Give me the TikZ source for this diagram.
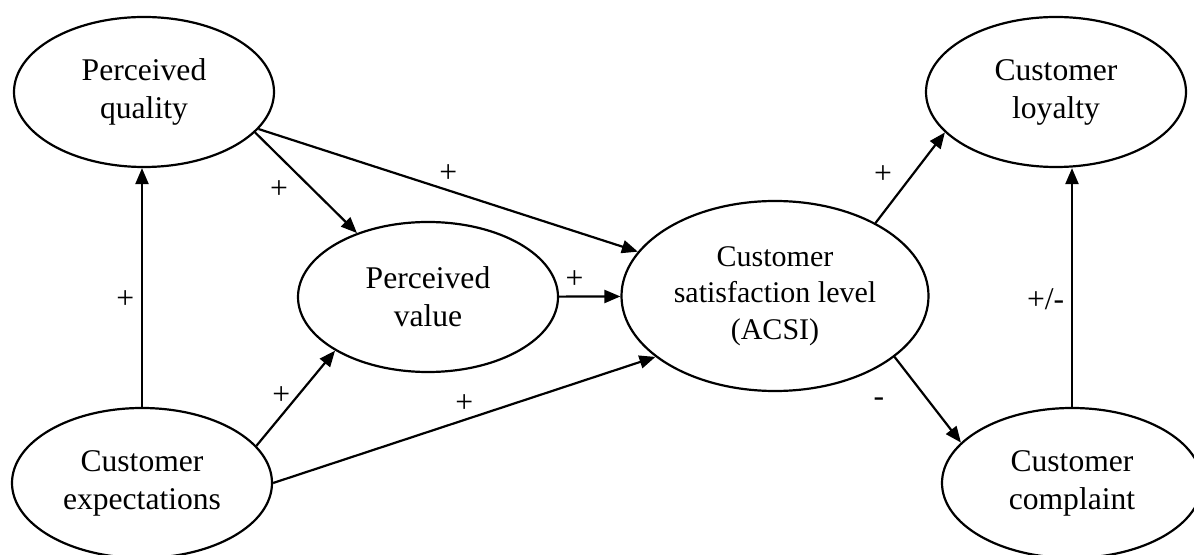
\documentclass[tikz,border=0pt]{standalone}
\usepackage{fontspec}
\setmainfont{Liberation Serif}
\usetikzlibrary{shapes.geometric, arrows.meta}
\tikzset{
    > = {Triangle[length=8pt, width=6.5pt]},
    factor/.style = {ellipse, draw, line width=1.1pt, minimum width=130pt,
        minimum height=75pt, inner sep=2pt, align=center,
        font=\fontsize{15.8}{19}\selectfont},
    link/.style = {->, line width=1.1pt},
    sign/.style = {font=\fontsize{15.8}{19}\selectfont}
}

\begin{document}
\begin{tikzpicture}[x=0.5pt, y=-0.5pt]
    \useasboundingbox (0,0) rectangle (1194,555);

    \node[factor] (quality) at (144, 92) {Perceived\\quality};
    \node[factor] (expect) at (142, 483) {Customer\\expectations};
    \node[factor] (value) at (428, 297) {Perceived\\value};
    \node[factor, minimum width=153.5pt, minimum height=95pt,
        font=\fontsize{15}{18.25}\selectfont] (acsi) at (775, 296)
        {Customer\\satisfaction level\\(ACSI)};
    \node[factor] (loyalty) at (1056, 92) {Customer\\loyalty};
    \node[factor] (complaint) at (1072, 483) {Customer\\complaint};

    \draw (expect.north) edge[link] node[sign, left, pos=0.45] (s1) {+} (expect.north |- quality.south);
    \draw (quality.-20) edge[link] node[sign, below left, pos=0.4] (s2) {+} (value.138);
    \draw (quality) edge[link] node[sign, above, pos=0.5] (s3) {+} (acsi);
    \draw (value) edge[link] node[sign, above, pos=0.25] (s4) {+} (acsi);
    \draw (expect.18) edge[link] node[sign, left, pos=0.53] (s5) {+} (value.-150);
    \draw (expect.east) edge[link] node[sign, above, pos=0.5] (s6) {+} (acsi.-153);
    \draw (acsi.36) edge[link] node[sign, above left, pos=0.35] (s7) {+} (loyalty.-160);
    \draw (acsi.-27) edge[link] node[sign, below left=8pt, pos=0.2] (s8) {-} (complaint.160);
    \draw (complaint.north) edge[link] node[sign, left, pos=0.45] (s9) {+/-} (complaint.north |- loyalty.south);
\end{tikzpicture}
\end{document}
